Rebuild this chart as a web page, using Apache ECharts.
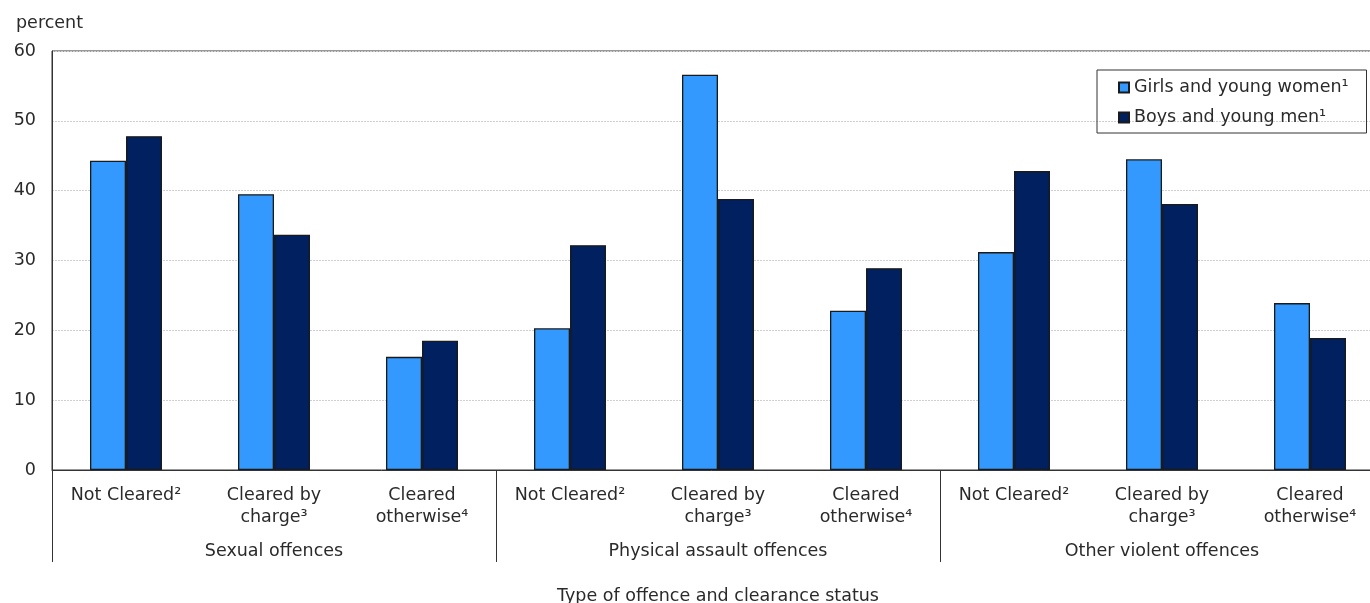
<!DOCTYPE html>
<html>
<head>
<meta charset="utf-8">
<script src="https://cdn.jsdelivr.net/npm/echarts@6/dist/echarts.min.js"></script>
<style>
html,body{margin:0;padding:0;background:#fff;overflow:hidden;}
#chart{width:1370px;height:603px;}
</style>
</head>
<body>
<div id="chart"></div>
<script>
// Data
const categories = [
  'Not Cleared²', 'Cleared by\ncharge³', 'Cleared\notherwise⁴',
  'Not Cleared²', 'Cleared by\ncharge³', 'Cleared\notherwise⁴',
  'Not Cleared²', 'Cleared by\ncharge³', 'Cleared\notherwise⁴'
];
const groups = ['Sexual offences', 'Physical assault offences', 'Other violent offences'];
const girlsName = 'Girls and young women¹';
const boysName = 'Boys and young men¹';
const girls = [44.3, 39.5, 16.2, 20.3, 56.6, 22.8, 31.2, 44.5, 23.9];
const boys  = [47.8, 33.7, 18.5, 32.2, 38.8, 28.9, 42.8, 38.1, 18.9];
const yTicks = {min: 0, max: 60, interval: 10};

const FONT = 'DejaVu Sans';
const TXT = '#2a2a2a';
const FS = 17.5;

const chart = echarts.init(document.getElementById('chart'), null, {renderer: 'canvas', width: 1370, height: 603});
chart.setOption({
  backgroundColor: '#fff',
  animation: false,
  textStyle: {fontFamily: FONT, color: TXT},
  title: {
    text: 'percent', left: 11, top: 9,
    textStyle: {fontFamily: FONT, fontSize: FS, fontWeight: 'normal', color: TXT}
  },
  legend: {
    orient: 'vertical', left: 1097, top: 70,
    padding: [7, 18, 5, 21],
    borderColor: '#333', borderWidth: 1,
    itemWidth: 10, itemHeight: 10, itemGap: 9,
    icon: 'rect',
    textStyle: {fontFamily: FONT, fontSize: FS, color: TXT, lineHeight: 21},
    data: [girlsName, boysName]
  },
  grid: {
    left: 52, top: 51, width: 1332, height: 419,
    outerBoundsMode: 'none', containLabel: false,
    show: true, borderColor: '#333', borderWidth: 1, backgroundColor: 'transparent'
  },
  xAxis: [
    {
      type: 'category', data: categories, position: 'bottom',
      axisLine: {show: true, lineStyle: {color: '#333', width: 1}},
      axisTick: {show: false},
      axisLabel: {interval: 0, margin: 14, fontFamily: FONT, fontSize: FS, color: TXT, lineHeight: 22, align: 'center'}
    },
    {
      type: 'category', data: groups, position: 'bottom', offset: 0,
      axisLine: {show: false},
      axisTick: {show: true, length: 92, alignWithLabel: false, interval: 0, lineStyle: {color: '#333', width: 1}},
      axisLabel: {interval: 0, margin: 72, fontFamily: FONT, fontSize: FS, color: TXT},
      name: 'Type of offence and clearance status',
      nameLocation: 'middle', nameGap: 117,
      nameTextStyle: {fontFamily: FONT, fontSize: FS, color: TXT}
    }
  ],
  yAxis: {
    type: 'value', min: yTicks.min, max: yTicks.max, interval: yTicks.interval,
    axisLine: {show: true, lineStyle: {color: '#333', width: 1}},
    axisTick: {show: false},
    axisLabel: {margin: 16, fontFamily: FONT, fontSize: FS, color: TXT},
    splitLine: {show: true, lineStyle: {color: '#cfcfcf', width: 1, type: [2, 1]}}
  },
  series: [
    {
      name: girlsName, type: 'bar', xAxisIndex: 0, data: girls,
      barWidth: 36, barGap: '0%',
      itemStyle: {color: '#3399ff', borderColor: '#1a1a1a', borderWidth: 1.3}
    },
    {
      name: boysName, type: 'bar', xAxisIndex: 0, data: boys,
      barWidth: 36, barGap: '0%',
      itemStyle: {color: '#00205f', borderColor: '#1a1a1a', borderWidth: 1.3}
    }
  ]
});
</script>
</body>
</html>
